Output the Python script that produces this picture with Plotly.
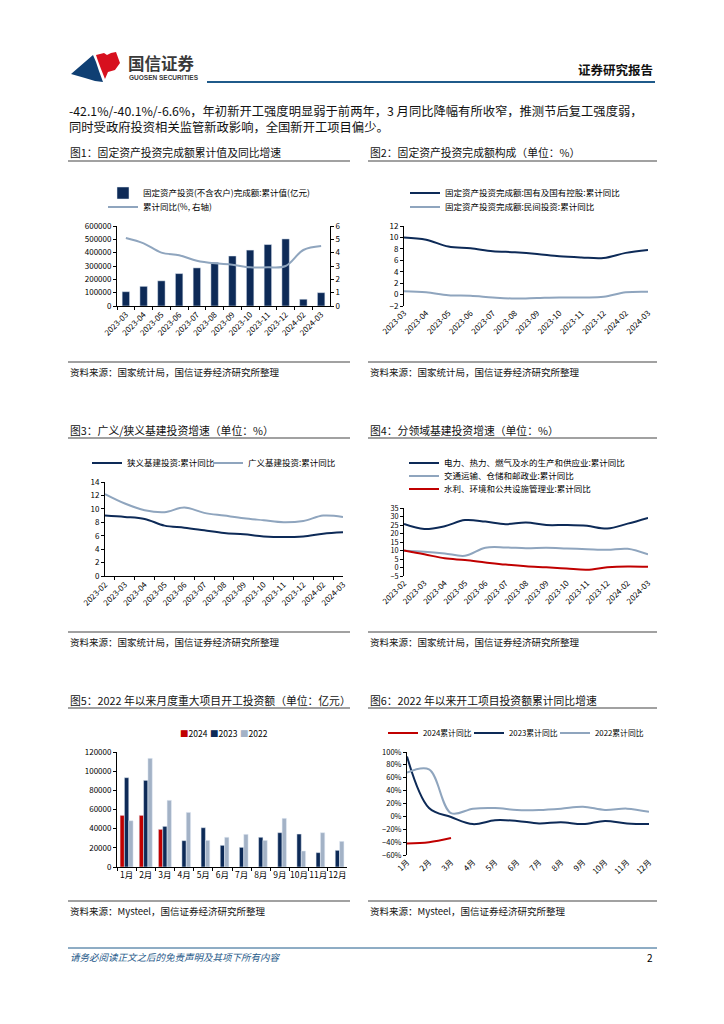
import plotly.graph_objects as go

# The page is shown with the browser's default 8px body margin, so the figure
# is 8px smaller than the window and all reference pixel positions are shifted.
OFF = 8
W, H = 724 - OFF, 1024 - OFF
def px(x): return (x - OFF) / W
def py(y): return 1 - (y - OFF) / H

FONT = "Noto Sans CJK SC"
NAVY = "#0D2A57"
LIGHT = "#8FA5BE"
RED = "#C00000"
BAR22 = "#A3B2C6"
BLUE = "#1F5A8A"

# ---------------- data ----------------
c1_months = ["2023-03", "2023-04", "2023-05", "2023-06", "2023-07", "2023-08",
             "2023-09", "2023-10", "2023-11", "2023-12", "2024-02", "2024-03"]
c1_fai = [107282, 147482, 188815, 243113, 285898, 327042, 375035, 419409, 460814, 503036, 50847, 100042]
c1_yoy = [5.1, 4.7, 4.0, 3.8, 3.4, 3.2, 3.1, 2.9, 2.9, 3.0, 4.2, 4.5]

c2_months = c1_months
c2_state = [10.0, 9.6, 8.4, 8.1, 7.6, 7.4, 7.1, 6.7, 6.5, 6.4, 7.3, 7.8]
c2_private = [0.6, 0.4, -0.1, -0.2, -0.5, -0.7, -0.6, -0.5, -0.5, -0.4, 0.4, 0.5]

c3_months = ["2023-02"] + c1_months
c3_narrow = [9.0, 8.8, 8.5, 7.5, 7.2, 6.8, 6.4, 6.2, 5.9, 5.8, 5.9, 6.3, 6.5]
c3_broad = [12.2, 10.8, 9.8, 9.5, 10.2, 9.4, 9.0, 8.6, 8.3, 8.0, 8.2, 9.0, 8.8]

c4_months = c3_months
c4_power = [25.6, 22.6, 24.3, 27.9, 27.0, 25.5, 26.5, 25.0, 25.0, 24.5, 22.9, 25.8, 29.2]
c4_transport = [9.8, 9.3, 8.3, 6.9, 11.6, 11.8, 11.3, 11.6, 11.2, 10.8, 10.4, 11.0, 7.7]
c4_water = [10.0, 7.8, 5.4, 4.4, 3.0, 1.7, 0.7, 0.1, -0.6, -1.3, 0.1, 0.6, 0.4]

months_cn = ["1月", "2月", "3月", "4月", "5月", "6月", "7月", "8月", "9月", "10月", "11月", "12月"]
c5_2024 = [53900, 53900, 39300]
c5_2023 = [93200, 90400, 42400, 27500, 41000, 22600, 20500, 31000, 35800, 34400, 15000, 17400]
c5_2022 = [48300, 113400, 69600, 57000, 27800, 31000, 34100, 27800, 50800, 16700, 35800, 26800]

c6_2024 = [-42.1, -40.1, -33.6]
c6_2023 = [93, 13, -1, -12, -6, -7, -11, -9, -12, -7, -11, -12]
c6_2022 = [68, 73, 5, 12, 13, 10, 10, 12, 15, 10, 12, 7]

# ---------------- layout boxes (pixels) ----------------
boxes = {
    1: dict(x0=117, x1=330, top=226, bot=306, rng=[0, 600000]),
    2: dict(x0=404, x1=648, top=226, bot=306, rng=[-2, 12]),
    3: dict(x0=105, x1=343, top=482, bot=576, rng=[0, 14]),
    4: dict(x0=404, x1=648, top=508, bot=576, rng=[-5, 35]),
    5: dict(x0=117, x1=347, top=752, bot=867, rng=[0, 120000]),
    6: dict(x0=407, x1=649, top=752, bot=855, rng=[-60, 100]),
}

def zero_pos(b):
    lo, hi = b["rng"]
    ypix = b["bot"] - (0 - lo) / (hi - lo) * (b["bot"] - b["top"])
    return py(ypix)

fig = go.Figure()

def spline(color):
    return dict(color=color, width=2, shape="spline", smoothing=1)

# chart 1
fig.add_trace(go.Bar(x=c1_months, y=c1_fai, marker_color=NAVY, width=0.42,
                     name="固定资产投资(不含农户)完成额:累计值(亿元)",
                     xaxis="x", yaxis="y", legend="legend"))
fig.add_trace(go.Scatter(x=c1_months, y=c1_yoy, mode="lines", line=spline(LIGHT),
                         name="累计同比(%, 右轴)", xaxis="x", yaxis="y7", legend="legend2"))
# chart 2
fig.add_trace(go.Scatter(x=c2_months, y=c2_state, mode="lines", line=spline(NAVY),
                         name="固定资产投资完成额:国有及国有控股:累计同比",
                         xaxis="x2", yaxis="y2", legend="legend3"))
fig.add_trace(go.Scatter(x=c2_months, y=c2_private, mode="lines", line=spline(LIGHT),
                         name="固定资产投资完成额:民间投资:累计同比",
                         xaxis="x2", yaxis="y2", legend="legend4"))
# chart 3
fig.add_trace(go.Scatter(x=c3_months, y=c3_narrow, mode="lines", line=spline(NAVY),
                         name="狭义基建投资:累计同比", xaxis="x3", yaxis="y3", legend="legend5"))
fig.add_trace(go.Scatter(x=c3_months, y=c3_broad, mode="lines", line=spline(LIGHT),
                         name="广义基建投资:累计同比", xaxis="x3", yaxis="y3", legend="legend6"))
# chart 4
fig.add_trace(go.Scatter(x=c4_months, y=c4_power, mode="lines", line=spline(NAVY),
                         name="电力、热力、燃气及水的生产和供应业:累计同比",
                         xaxis="x4", yaxis="y4", legend="legend7"))
fig.add_trace(go.Scatter(x=c4_months, y=c4_transport, mode="lines", line=spline(LIGHT),
                         name="交通运输、仓储和邮政业:累计同比",
                         xaxis="x4", yaxis="y4", legend="legend8"))
fig.add_trace(go.Scatter(x=c4_months, y=c4_water, mode="lines", line=spline(RED),
                         name="水利、环境和公共设施管理业:累计同比",
                         xaxis="x4", yaxis="y4", legend="legend9"))
# chart 5
fig.add_trace(go.Bar(x=months_cn[:len(c5_2024)], y=c5_2024, marker_color=RED, name="2024",
                     xaxis="x5", yaxis="y5", showlegend=False, offsetgroup="a"))
fig.add_trace(go.Bar(x=months_cn, y=c5_2023, marker_color=NAVY, name="2023",
                     xaxis="x5", yaxis="y5", showlegend=False, offsetgroup="b"))
fig.add_trace(go.Bar(x=months_cn, y=c5_2022, marker_color=BAR22, name="2022",
                     xaxis="x5", yaxis="y5", showlegend=False, offsetgroup="c"))
# chart 6
fig.add_trace(go.Scatter(x=months_cn[:len(c6_2024)], y=c6_2024, mode="lines", line=spline(RED),
                         name="2024累计同比", xaxis="x6", yaxis="y6", legend="legend10"))
fig.add_trace(go.Scatter(x=months_cn, y=c6_2023, mode="lines", line=spline(NAVY),
                         name="2023累计同比", xaxis="x6", yaxis="y6", legend="legend11"))
fig.add_trace(go.Scatter(x=months_cn, y=c6_2022, mode="lines", line=spline(LIGHT),
                         name="2022累计同比", xaxis="x6", yaxis="y6", legend="legend12"))

TICKF = dict(family=FONT, size=8, color="#000")
AX = dict(showgrid=False, zeroline=False, linecolor="#000", linewidth=1, automargin=False,
          tickcolor="#000", ticklen=3, tickwidth=1, tickfont=TICKF)

lay = {}
for i, b in boxes.items():
    xn = "xaxis" if i == 1 else f"xaxis{i}"
    yn = "yaxis" if i == 1 else f"yaxis{i}"
    ya = "y" if i == 1 else f"y{i}"
    xa = "x" if i == 1 else f"x{i}"
    dom_x = [px(b["x0"]), px(b["x1"])]
    dom_y = [py(b["bot"]), py(b["top"])]
    bottom_axis = b["rng"][0] == 0
    xd = dict(AX, domain=dom_x, anchor=ya, type="category", tickson="boundaries",
              showline=bottom_axis, ticks="outside" if bottom_axis else "")
    if i == 5:
        xd.update(tickangle=0, tickfont=dict(family=FONT, size=8.5, color="#000"))
    else:
        xd.update(tickangle=-45)
    lay[xn] = xd
    lay[yn] = dict(AX, domain=dom_y, anchor=xa, range=b["rng"], showline=True,
                   ticks="outside", autorange=False)

lay["yaxis"].update(dtick=100000, tickformat="d")
lay["yaxis2"].update(dtick=2)
lay["yaxis3"].update(dtick=2)
lay["yaxis4"].update(dtick=5, tickfont=dict(family=FONT, size=7.3, color="#000"))
lay["yaxis5"].update(dtick=20000, tickformat="d")
lay["yaxis6"].update(dtick=20, ticksuffix="%", tickfont=dict(family=FONT, size=7.5, color="#000"))
lay["yaxis7"] = dict(AX, overlaying="y", side="right", anchor="x", range=[0, 6], dtick=1,
                     showline=True, ticks="outside", autorange=False)

# zero-line axes with boundary ticks for charts 2, 4, 6
for k, (i, n) in zip([7, 8, 9], [(2, len(c2_months)), (4, len(c4_months)), (6, len(months_cn))]):
    b = boxes[i]
    lay[f"xaxis{k}"] = dict(AX, overlaying=f"x{i}", anchor="free", position=zero_pos(b),
                            domain=[px(b["x0"]), px(b["x1"])], type="linear",
                            range=[-0.5, n - 0.5], tick0=-0.5, dtick=1, ticks="outside",
                            showline=True, showticklabels=False)

# legends (one entry each, placed like the reference)
def leg(x, y, size=8.5):
    return dict(x=px(x), y=py(y), xanchor="left", yanchor="middle", bgcolor="rgba(0,0,0,0)",
                font=dict(family=FONT, size=size, color="#000"), itemwidth=30,
                orientation="v", borderwidth=0)

lay["legend"] = leg(103, 193)
lay["legend2"] = leg(103, 207)
lay["legend3"] = leg(405, 193)
lay["legend4"] = leg(405, 207)
lay["legend5"] = leg(87, 463)
lay["legend6"] = leg(208, 463)
lay["legend7"] = leg(404, 463)
lay["legend8"] = leg(404, 476)
lay["legend9"] = leg(404, 489)
lay["legend10"] = leg(383, 733, 7.8)
lay["legend11"] = leg(469, 733, 7.8)
lay["legend12"] = leg(555, 733, 7.8)

annotations = []
def txt(x, y, s, size=10, color="#000", anchor="left", bold=False, family=FONT):
    annotations.append(dict(x=px(x), y=py(y), xref="paper", yref="paper",
                            text=(f"<b>{s}</b>" if bold else s),
                            showarrow=False, xanchor=anchor, yanchor="middle",
                            font=dict(family=family, size=size, color=color)))

# header
txt(126, 63, "国信证券", size=16.5, color="#3a3a3a", bold=True)
txt(127, 78, "GUOSEN SECURITIES", size=6.5, color="#3a3a3a", bold=True, family="Liberation Sans")
txt(655, 69, "证券研究报告", size=12.5, color="#111", anchor="right", bold=True)
txt(67, 111, "-42.1%/-40.1%/-6.6%，年初新开工强度明显弱于前两年，3 月同比降幅有所收窄，推测节后复工强度弱，", size=12.3, color="#111")
txt(67, 127, "同时受政府投资相关监管新政影响，全国新开工项目偏少。", size=12.3, color="#111")

# chart titles
titles = [(68, 152, "图1：固定资产投资完成额累计值及同比增速"),
          (368, 152, "图2：固定资产投资完成额构成（单位：%）"),
          (68, 430, "图3：广义/狭义基建投资增速（单位：%）"),
          (368, 430, "图4：分领域基建投资增速（单位：%）"),
          (68, 700, "图5：2022 年以来月度重大项目开工投资额（单位：亿元）"),
          (368, 700, "图6：2022 年以来开工项目投资额累计同比增速")]
for x, y, s in titles:
    txt(x, y, s, size=10.8, color="#111")

sources = [(68, 372, "资料来源：国家统计局，国信证券经济研究所整理"),
           (368, 372, "资料来源：国家统计局，国信证券经济研究所整理"),
           (68, 642, "资料来源：国家统计局，国信证券经济研究所整理"),
           (368, 642, "资料来源：国家统计局，国信证券经济研究所整理"),
           (68, 911, "资料来源：Mysteel，国信证券经济研究所整理"),
           (368, 911, "资料来源：Mysteel，国信证券经济研究所整理")]
for x, y, s in sources:
    txt(x, y, s, size=9.5, color="#111")

# chart 5 legend
for x, name, col in [(178, "2024", RED), (208, "2023", NAVY), (238, "2022", BAR22)]:
    txt(x, 733, f'<span style="color:{col}">■</span>{name}', size=8.5, color="#000")

# footer
txt(68, 957, "<i>请务必阅读正文之后的免责声明及其项下所有内容</i>", size=9.5, color=BLUE)
txt(655, 957, "2", size=10, color="#000", anchor="right")

shapes = []
def hline(x0, x1, y, color="#000", w=1):
    shapes.append(dict(type="line", xref="paper", yref="paper", x0=px(x0), x1=px(x1),
                       y0=py(y), y1=py(y), line=dict(color=color, width=w)))

hline(207, 655, 82, BLUE, 2.2)
for y in (161, 438, 708):
    hline(68, 350, y, "#444", 1.2)
    hline(368, 657, y, "#444", 1.2)
for y in (362, 632, 901):
    hline(68, 350, y, "#444", 1.2)
    hline(368, 657, y, "#444", 1.2)
hline(68, 657, 948, BLUE, 1)

def poly(pts, color):
    d = "M " + " L ".join(f"{px(a):.5f},{py(b):.5f}" for a, b in pts) + " Z"
    shapes.append(dict(type="path", xref="paper", yref="paper", path=d,
                       fillcolor=color, line=dict(width=0)))

poly([(71, 74), (93, 55), (96, 62), (99, 71), (103, 82), (95, 81), (85, 78)], "#0F3F73")
poly([(96, 55), (104, 53), (107, 55), (111, 53), (116, 52), (120, 63), (115, 70),
      (108, 72), (105, 79), (101, 69), (98, 61)], "#D7101E")

fig.update_layout(width=W, height=H, margin=dict(l=0, r=0, t=0, b=0, pad=0, autoexpand=False),
                  paper_bgcolor="white", plot_bgcolor="white",
                  barmode="group", bargap=0.32, bargroupgap=0,
                  font=dict(family=FONT, color="#000"),
                  annotations=annotations, shapes=shapes, **lay)

fig.write_html("out.html")
